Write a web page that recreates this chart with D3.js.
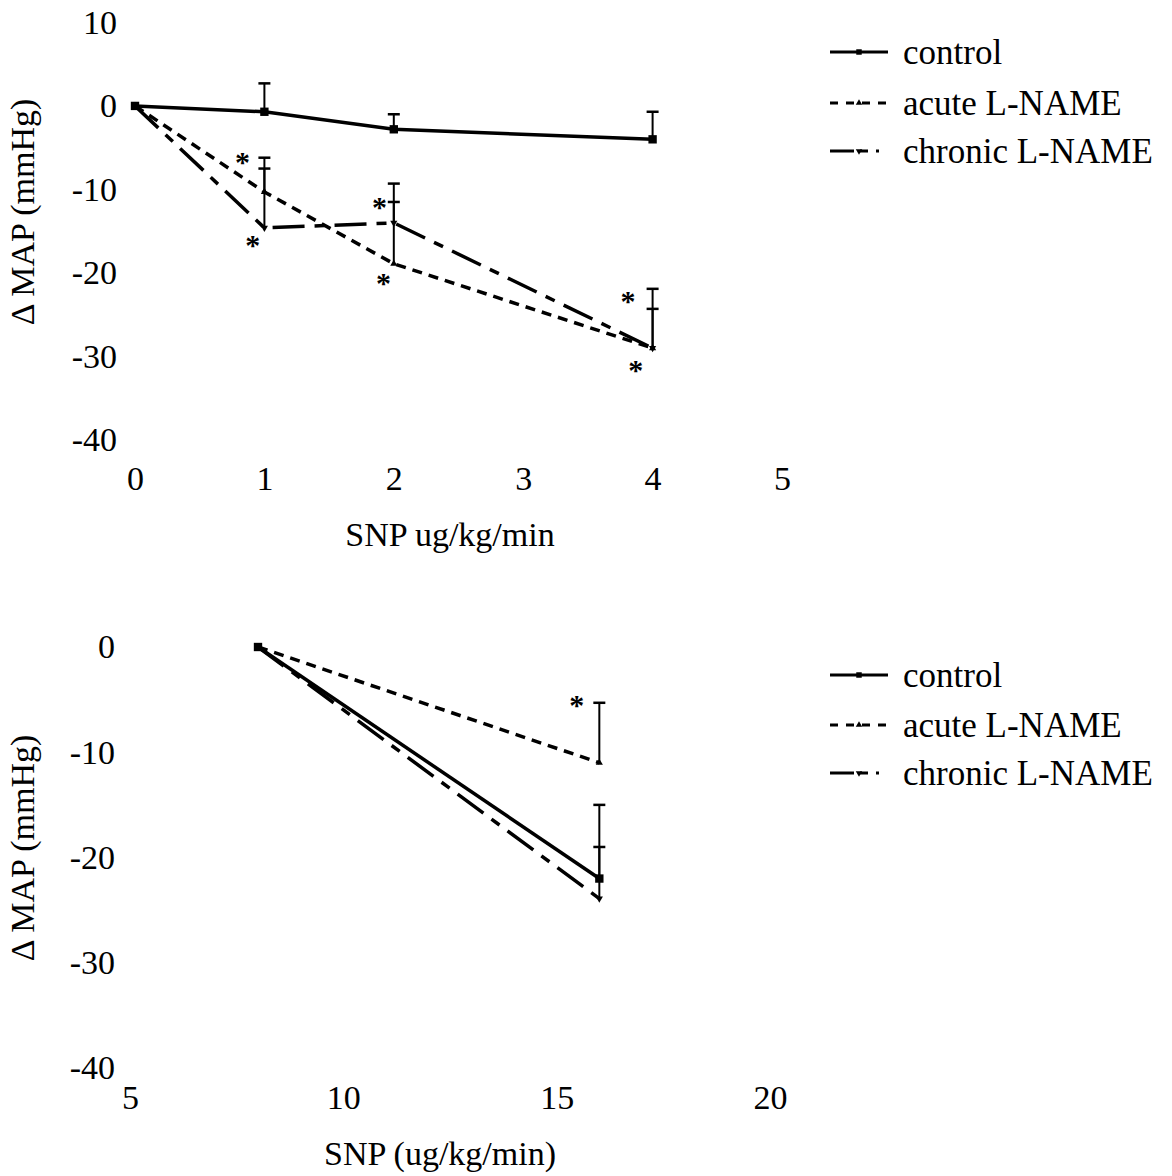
<!DOCTYPE html>
<html>
<head>
<meta charset="utf-8">
<script src="https://cdn.jsdelivr.net/npm/d3@7"></script>
<style>
  body { margin: 0; background: #fff; }
  text { font-family: "Liberation Serif", "DejaVu Serif", serif; fill: #000; }
</style>
</head>
<body>
<div id="chart"></div>
<script>
// series names (same in both panels)
const seriesNames = ["control", "acute L-NAME", "chronic L-NAME"];

// top panel: SNP ug/kg/min
const topDoses = [0, 1, 2, 4];
const topControl = [0, -0.7, -2.8, -4.0];
const topAcute = [0, -10.3, -18.9, -29.0];
const topChronic = [0, -14.6, -14.0, -29.0];
// upper end of the error bars (null = none)
const topControlUpper = [null, 2.7, -1.0, -0.7];
const topAcuteUpper = [null, -7.5, -11.5, -24.3];
const topChronicUpper = [null, -6.2, -9.3, -21.9];
const topXTicks = [0, 1, 2, 3, 4, 5];
const topYTicks = [10, 0, -10, -20, -30, -40];
// significance stars [dose, value]
const topStars = [[0.83, -6.3], [0.91, -16.3], [1.89, -11.7], [1.92, -20.8], [3.81, -23.0], [3.87, -31.2]];

// bottom panel: SNP (ug/kg/min)
const botDoses = [8, 16];
const botControl = [0, -22.0];
const botAcute = [0, -11.0];
const botChronic = [0, -23.9];
const botControlUpper = [null, -19.0];
const botAcuteUpper = [null, -5.3];
const botChronicUpper = [null, -15.0];
const botXTicks = [5, 10, 15, 20];
const botYTicks = [0, -10, -20, -30, -40];
const botStars = [[15.47, -5.2]];

const W = 1172, H = 1176;

const svg = d3.select("#chart")
    .append("svg")
    .attr("width", W)
    .attr("height", H);

svg.append("rect").attr("width", W).attr("height", H).attr("fill", "#fff");

// line styles for each series
const styles = [
    {dash: null, marker: d3.symbolSquare, msize: 70},
    {dash: "10,7", marker: d3.symbolTriangle, msize: 22},
    {dash: "32,10,10,10", marker: d3.symbolTriangle, msize: 22, flip: true}
];

function drawPanel(cfg) {
    const x = d3.scaleLinear().domain(cfg.xDomain).range(cfg.xRange);
    const y = d3.scaleLinear().domain(cfg.yDomain).range(cfg.yRange);
    const g = svg.append("g");

    // y axis labels only
    const yAxis = g.append("g")
        .attr("transform", `translate(${cfg.xRange[0]},0)`)
        .call(d3.axisLeft(y).tickValues(cfg.yTicks).tickFormat(d => String(d))
            .tickSize(0).tickPadding(cfg.yPad));
    yAxis.select(".domain").remove();
    yAxis.selectAll("text").style("font-size", "34px").style("font-family", "Liberation Serif");

    // x axis labels only
    const xAxis = g.append("g")
        .attr("transform", `translate(0,${cfg.xAxisY})`)
        .call(d3.axisBottom(x).tickValues(cfg.xTicks).tickFormat(d => String(d))
            .tickSize(0).tickPadding(0));
    xAxis.select(".domain").remove();
    xAxis.selectAll("text").style("font-size", "34px").style("font-family", "Liberation Serif");

    // axis titles
    g.append("text")
        .attr("x", cfg.xTitle[0]).attr("y", cfg.xTitle[1])
        .attr("text-anchor", "middle")
        .style("font-size", "34px")
        .text(cfg.xLabel);
    g.append("text")
        .attr("transform", `translate(${cfg.yTitle[0]},${cfg.yTitle[1]}) rotate(-90)`)
        .attr("text-anchor", "middle")
        .attr("dominant-baseline", "central")
        .style("font-size", "34px")
        .text("\u0394 MAP (mmHg)");

    const line = d3.line()
        .x(d => x(d[0]))
        .y(d => y(d[1]));

    cfg.series.forEach((s, i) => {
        const st = styles[i];
        const pts = cfg.doses.map((d, j) => [d, s.values[j], s.upper[j]]);

        // error bars
        const eb = g.append("g");
        pts.filter(p => p[2] !== null).forEach(p => {
            eb.append("line")
                .attr("x1", x(p[0])).attr("x2", x(p[0]))
                .attr("y1", y(p[1])).attr("y2", y(p[2]))
                .attr("stroke", "#000").attr("stroke-width", 2);
            eb.append("line")
                .attr("x1", x(p[0]) - 6).attr("x2", x(p[0]) + 6)
                .attr("y1", y(p[2])).attr("y2", y(p[2]))
                .attr("stroke", "#000").attr("stroke-width", 2.5);
        });

        g.append("path")
            .datum(pts)
            .attr("d", line)
            .attr("fill", "none")
            .attr("stroke", "#000")
            .attr("stroke-width", 3.5)
            .attr("stroke-dasharray", st.dash);

        g.selectAll(null)
            .data(pts)
            .join("path")
            .attr("d", d3.symbol().type(st.marker).size(st.msize))
            .attr("transform", d => `translate(${x(d[0])},${y(d[1])})` + (st.flip ? " rotate(180)" : ""))
            .attr("fill", "#000");
    });

    // stars
    g.selectAll(null)
        .data(cfg.stars)
        .join("text")
        .attr("x", d => x(d[0]))
        .attr("y", d => y(d[1]) + 13)
        .attr("text-anchor", "middle")
        .style("font-size", "30px")
        .style("font-weight", "bold")
        .text("*");

    // legend
    const lg = g.append("g");
    seriesNames.forEach((name, i) => {
        const st = styles[i];
        const ly = cfg.legendY[i];
        lg.append("line")
            .attr("x1", cfg.legendX).attr("x2", cfg.legendX + 58)
            .attr("y1", ly).attr("y2", ly)
            .attr("stroke", "#000").attr("stroke-width", 3)
            .attr("stroke-dasharray", i === 0 ? null : (i === 1 ? "8,8" : "24,6,8,8,3"));
        lg.append("path")
            .attr("d", d3.symbol().type(st.marker).size(i === 0 ? 30 : 18))
            .attr("transform", `translate(${cfg.legendX + 29},${ly})` + (st.flip ? " rotate(180)" : ""))
            .attr("fill", "#000");
        lg.append("text")
            .attr("x", cfg.legendX + 73).attr("y", ly)
            .attr("dominant-baseline", "central")
            .style("font-size", "35px")
            .text(name);
    });
}

drawPanel({
    xDomain: [0, 5], xRange: [135, 782],
    yDomain: [10, -40], yRange: [22.4, 440],
    xTicks: topXTicks, yTicks: topYTicks, yPad: 18,
    xAxisY: 466,
    xLabel: "SNP ug/kg/min", xTitle: [450, 546],
    yTitle: [22, 212],
    doses: topDoses,
    series: [
        {values: topControl, upper: topControlUpper},
        {values: topAcute, upper: topAcuteUpper},
        {values: topChronic, upper: topChronicUpper}
    ],
    stars: topStars,
    legendX: 830, legendY: [52, 103, 151]
});

drawPanel({
    xDomain: [5, 20], xRange: [130, 770],
    yDomain: [0, -40], yRange: [647, 1068],
    xTicks: botXTicks, yTicks: botYTicks, yPad: 15,
    xAxisY: 1085,
    xLabel: "SNP (ug/kg/min)", xTitle: [440, 1165],
    yTitle: [22, 848],
    doses: botDoses,
    series: [
        {values: botControl, upper: botControlUpper},
        {values: botAcute, upper: botAcuteUpper},
        {values: botChronic, upper: botChronicUpper}
    ],
    stars: botStars,
    legendX: 830, legendY: [675, 725, 773]
});
</script>
</body>
</html>
